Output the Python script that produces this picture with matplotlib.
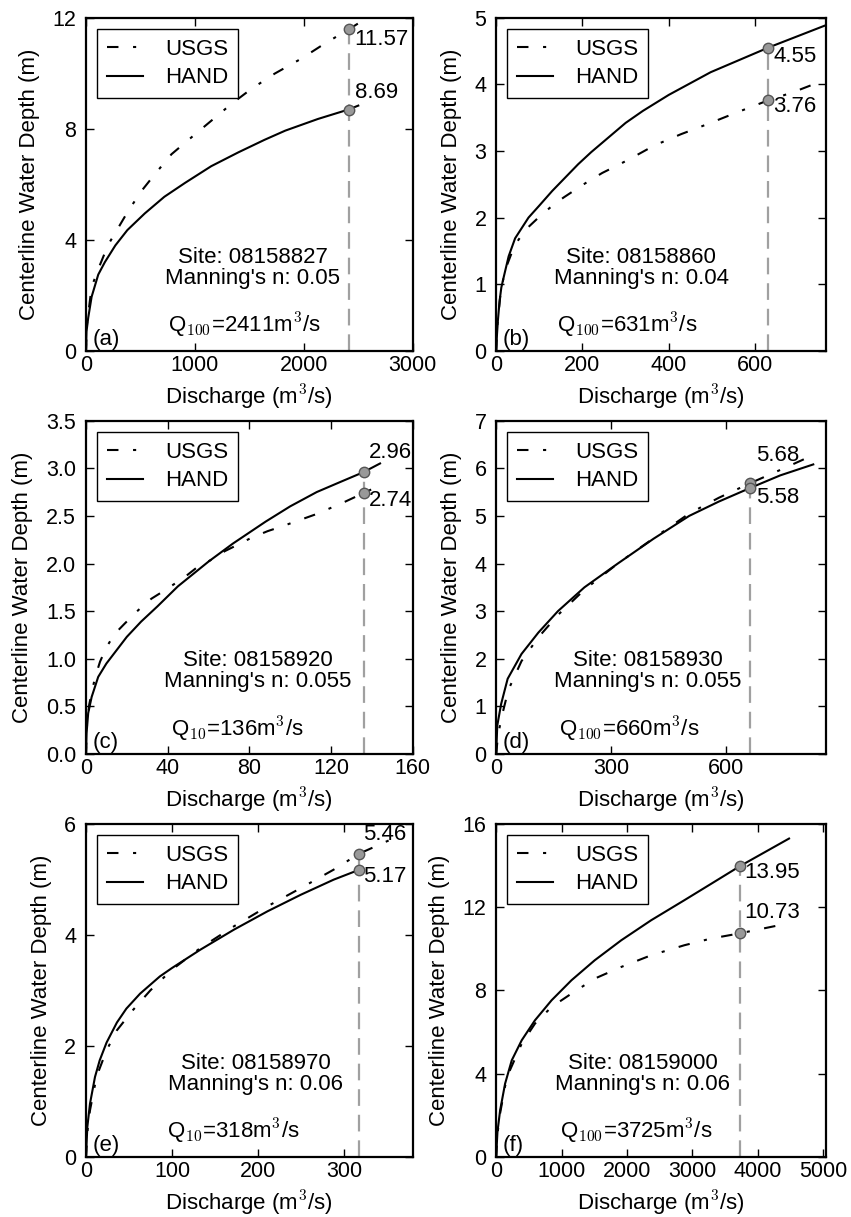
import matplotlib
matplotlib.use('Agg')
from matplotlib import pyplot as plt, rcParams

rcParams['font.family'] = ['Liberation Sans', 'DejaVu Sans']
rcParams['mathtext.fontset'] = 'cm'
rcParams['font.size'] = 16

# (a) site 08158827
a_usgs_q = [0, 10, 52, 113, 205, 296, 388, 510, 632, 785, 969, 1152, 1335, 1518, 1732, 1977, 2191, 2411, 2496]
a_usgs_d = [0, 1.0, 2.3, 2.95, 3.83, 4.43, 5.04, 5.76, 6.36, 7.08, 7.69, 8.29, 8.89, 9.43, 9.98, 10.52, 11.06, 11.57, 11.78]
a_hand_q = [0, 5, 21, 52, 113, 174, 270, 380, 540, 720, 910, 1150, 1400, 1640, 1830, 2130, 2411, 2500]
a_hand_d = [0, 0.7, 1.2, 1.95, 2.75, 3.2, 3.8, 4.35, 4.95, 5.55, 6.05, 6.65, 7.15, 7.6, 7.93, 8.35, 8.69, 8.83]

# (b) site 08158860
b_usgs_q = [0, 3, 10, 20, 36, 52, 75, 98, 125, 156, 184, 215, 246, 277, 307, 338, 366, 428, 489, 551, 631, 688, 740]
b_usgs_d = [0, 0.4, 0.85, 1.2, 1.47, 1.67, 1.86, 2.0, 2.15, 2.3, 2.42, 2.55, 2.67, 2.77, 2.87, 2.98, 3.08, 3.25, 3.4, 3.56, 3.76, 3.88, 4.01]
b_hand_q = [0, 2, 4, 8, 12, 18, 29, 44, 60, 75, 100, 130, 160, 190, 220, 260, 300, 340, 400, 497, 631, 762]
b_hand_d = [0, 0.25, 0.45, 0.75, 0.95, 1.12, 1.42, 1.69, 1.85, 2.0, 2.18, 2.4, 2.6, 2.8, 2.98, 3.2, 3.42, 3.6, 3.84, 4.18, 4.55, 4.88]

# (c) site 08158920
c_usgs_q = [0, 0.5, 1.6, 4.4, 6.9, 10, 14, 19, 25.6, 32, 38.7, 43.6, 48.5, 55, 61.5, 68, 74.6, 81, 89, 96, 113, 126, 136, 144]
c_usgs_d = [0, 0.3, 0.52, 0.8, 0.97, 1.12, 1.26, 1.37, 1.51, 1.63, 1.72, 1.79, 1.86, 1.97, 2.04, 2.13, 2.2, 2.27, 2.34, 2.39, 2.52, 2.64, 2.74, 2.82]
c_hand_q = [0, 0.3, 1.1, 2.8, 6, 10, 15, 20, 27, 35, 45, 60, 72, 88, 100, 113, 125, 136, 144]
c_hand_d = [0, 0.22, 0.43, 0.6, 0.81, 0.95, 1.09, 1.23, 1.39, 1.55, 1.76, 2.02, 2.21, 2.44, 2.6, 2.75, 2.86, 2.96, 3.05]

# (d) site 08158930
d_usgs_q = [0, 5, 15, 32, 66, 110, 161, 230, 317, 410, 503, 580, 660, 750, 835]
d_usgs_d = [0, 0.4, 0.8, 1.35, 1.95, 2.45, 2.92, 3.45, 4.0, 4.53, 5.05, 5.38, 5.68, 6.0, 6.31]
d_hand_q = [0, 3, 13, 30, 66, 110, 161, 230, 317, 410, 503, 580, 660, 740, 826]
d_hand_d = [0, 0.6, 1.05, 1.58, 2.1, 2.55, 3.0, 3.5, 4.0, 4.52, 5.0, 5.3, 5.58, 5.85, 6.08]

# (e) site 08158970
e_usgs_q = [0, 2, 4.7, 12.4, 24, 36, 55, 75, 100, 133, 172, 211, 250, 288, 318, 360]
e_usgs_d = [0, 0.5, 0.84, 1.45, 1.92, 2.28, 2.65, 3.0, 3.37, 3.76, 4.15, 4.51, 4.84, 5.17, 5.46, 5.75]
e_hand_q = [0, 1.6, 4.7, 10.5, 16, 24, 36, 47, 63, 86, 100, 133, 172, 211, 250, 288, 318]
e_hand_d = [0, 0.54, 0.96, 1.44, 1.74, 2.06, 2.42, 2.67, 2.94, 3.25, 3.4, 3.73, 4.09, 4.42, 4.72, 4.99, 5.17]

# (f) site 08159000
f_usgs_q = [0, 20, 61, 137, 188, 391, 594, 848, 1152, 1508, 1914, 2371, 2878, 3284, 3725, 4450]
f_usgs_d = [0, 1.1, 2.1, 3.4, 4.0, 5.44, 6.4, 7.2, 7.84, 8.56, 9.12, 9.68, 10.16, 10.48, 10.73, 11.2]
f_hand_q = [0, 20, 61, 137, 239, 391, 594, 848, 1152, 1508, 1914, 2371, 2878, 3284, 3725, 4480]
f_hand_d = [0, 1.2, 2.24, 3.52, 4.64, 5.6, 6.56, 7.52, 8.48, 9.44, 10.4, 11.36, 12.32, 13.1, 13.95, 15.28]

letters = ['a', 'b', 'c', 'd', 'e', 'f']
sites = ['08158827', '08158860', '08158920', '08158930', '08158970', '08159000']
mannings = ['0.05', '0.04', '0.055', '0.055', '0.06', '0.06']
return_period = ['100', '100', '10', '100', '10', '100']
q_design = [2411, 631, 136, 660, 318, 3725]
usgs_at_q = [11.57, 3.76, 2.74, 5.68, 5.46, 10.73]
hand_at_q = [8.69, 4.55, 2.96, 5.58, 5.17, 13.95]

usgs_q = [a_usgs_q, b_usgs_q, c_usgs_q, d_usgs_q, e_usgs_q, f_usgs_q]
usgs_d = [a_usgs_d, b_usgs_d, c_usgs_d, d_usgs_d, e_usgs_d, f_usgs_d]
hand_q = [a_hand_q, b_hand_q, c_hand_q, d_hand_q, e_hand_q, f_hand_q]
hand_d = [a_hand_d, b_hand_d, c_hand_d, d_hand_d, e_hand_d, f_hand_d]

xlims = [3000, 765, 160, 860, 380, 5050]
xticks = [[0, 1000, 2000, 3000], [0, 200, 400, 600], [0, 40, 80, 120, 160],
          [0, 300, 600], [0, 100, 200, 300], [0, 1000, 2000, 3000, 4000, 5000]]
ylims = [12, 5, 3.5, 7, 6, 16]
yticks = [[0, 4, 8, 12], [0, 1, 2, 3, 4, 5], [0, 0.5, 1.0, 1.5, 2.0, 2.5, 3.0, 3.5],
          [0, 1, 2, 3, 4, 5, 6, 7], [0, 2, 4, 6], [0, 4, 8, 12, 16]]

# label offsets (pixels) for USGS / HAND value labels
usgs_off = [(6, -10), (5, -6), (5, -7), (7, 28), (4, 19), (5, 21)]
hand_off = [(6, 17), (5, -9), (5, 20), (7, -9), (4, -7), (5, -6)]
site_x = [0.51, 0.44, 0.527, 0.46, 0.52, 0.443]
q_x = [0.25, 0.185, 0.26, 0.19, 0.247, 0.194]

fig = plt.figure(figsize=(8.51, 12.17), dpi=100)
lefts = [0.101, 0.583]
bottoms = [0.7116, 0.3804, 0.0493]
h = 0.274

for i in range(6):
    ax = fig.add_axes([lefts[i % 2], bottoms[i // 2], 0.384 if i % 2 == 0 else 0.388, h])
    top = max(usgs_at_q[i], hand_at_q[i])
    ax.plot([q_design[i], q_design[i]], [0, top], color='#a0a0a0', lw=1.6,
            dashes=(7.5, 4), zorder=1)
    ax.plot(usgs_q[i], usgs_d[i], color='black', lw=1.5, dashes=(5.5, 7, 1.5, 7), label='USGS', zorder=2)
    ax.plot(hand_q[i], hand_d[i], color='black', lw=1.5, label='HAND', zorder=2)
    ax.plot([q_design[i], q_design[i]], [usgs_at_q[i], hand_at_q[i]], 'o', ms=7.5,
            mfc='#999999', mec='#555555', mew=1, zorder=3)
    ax.annotate('{:.2f}'.format(usgs_at_q[i]), (q_design[i], usgs_at_q[i]), xytext=usgs_off[i],
                textcoords='offset pixels', ha='left', va='center')
    ax.annotate('{:.2f}'.format(hand_at_q[i]), (q_design[i], hand_at_q[i]), xytext=hand_off[i],
                textcoords='offset pixels', ha='left', va='center')

    ax.text(site_x[i], 0.248, 'Site: {}\nManning\'s n: {}'.format(sites[i], mannings[i]),
            transform=ax.transAxes, ha='center', va='center', multialignment='center',
            linespacing=1.0)
    ax.text(q_x[i], 0.075, 'Q$_{' + return_period[i] + '}$=' + str(q_design[i]) + 'm$^3$/s',
            transform=ax.transAxes, ha='left', va='center')
    ax.text(0.02, 0.035, '({})'.format(letters[i]), transform=ax.transAxes, ha='left', va='center')

    ax.set_xlim(0, xlims[i])
    ax.set_ylim(0, ylims[i])
    ax.set_xticks(xticks[i])
    ax.set_yticks(yticks[i])
    if i == 2:
        ax.set_yticklabels(['{:.1f}'.format(v) for v in yticks[i]])
    ax.tick_params(direction='in', top=True, right=True, length=6, width=1, labelsize=15.5)
    ax.tick_params(axis='x', pad=3)
    ax.tick_params(axis='y', pad=7)
    for s in ax.spines.values():
        s.set_linewidth(1.6)
    ax.set_xlabel('Discharge (m$^3$/s)', labelpad=5)
    ax.set_ylabel('Centerline Water Depth (m)', labelpad=9)
    leg = ax.legend(loc='upper left', fancybox=False, edgecolor='black', framealpha=1,
                    handlelength=1.6, handletextpad=1.0, borderpad=0.45, labelspacing=0.35,
                    borderaxespad=0.5)
    leg.get_frame().set_linewidth(1.0)

plt.savefig('out.png', dpi=100)
